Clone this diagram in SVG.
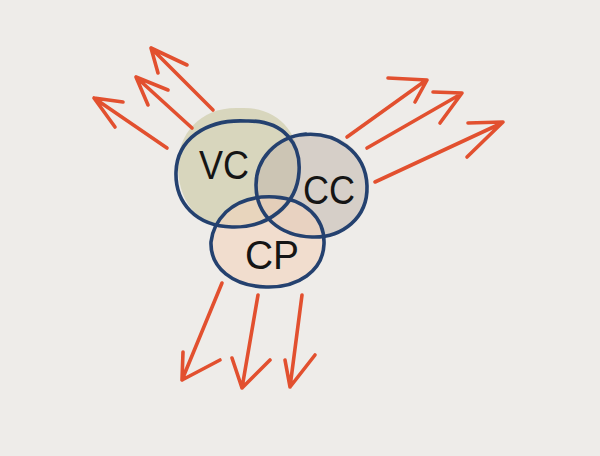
<svg xmlns="http://www.w3.org/2000/svg" width="600" height="456" viewBox="0 0 600 456">
<style>
.arr{fill:none;stroke:#e2502f;stroke-width:3.6;stroke-linecap:round;stroke-linejoin:round}
.ring{fill:none;stroke:#24416f;stroke-width:3.6;stroke-linecap:round}
.lbl{font-family:"Liberation Sans","DejaVu Sans",sans-serif;font-size:40px;fill:#151515;text-anchor:middle}
</style>
<rect width="600" height="456" fill="#eeece9"/>
<g id="washes">
<path d="M178,170 C176,135 200,106 240,108 C275,106 300,130 300,168 C300,205 275,228 238,228 C200,228 180,205 178,170 Z" fill="#c9c8a0" opacity="0.6"/>
<path d="M256,185 C256,150 280,133 312,133 C345,133 367,155 367,185 C367,218 342,238 311,238 C280,238 256,218 256,185 Z" fill="#c2b8ad" opacity="0.55"/>
<path d="M211,243 C211,212 238,197 268,197 C300,197 324,214 324,242 C324,272 298,288 266,288 C234,288 211,272 211,243 Z" fill="#f4d3bd" opacity="0.6"/>
</g>
<g id="vc">
<path class="ring" d="M246,121 C285,120 301,145 299,172 C297,205 268,228 232,227 C196,226 175,203 176,172 C177,140 205,119 246,121 Z"/>
<text class="lbl" x="224" y="179" textLength="50" lengthAdjust="spacingAndGlyphs">VC</text>
</g>
<g id="cc">
<path class="ring" d="M300,135 C335,130 366,152 367,186 C368,218 342,238 312,237 C280,236 256,216 256,185 C256,160 275,137 306,134"/>
<text class="lbl" x="329" y="204" textLength="52" lengthAdjust="spacingAndGlyphs">CC</text>
</g>
<g id="cp">
<path class="ring" d="M226,212 C240,199 258,196 275,197 C305,199 325,218 324,244 C323,271 298,288 266,287 C233,286 210,268 211,242 C212,232 216,222 226,212"/>
<text class="lbl" x="272" y="269" textLength="54" lengthAdjust="spacingAndGlyphs">CP</text>
</g>
<g id="connectors">
<path class="arr" d="M167,148 L94,98 M123,102 L94,98 L115,127"/>
<path class="arr" d="M192,128 L136,77 M168,90 L136,77 L148,105"/>
<path class="arr" d="M213,110 L151,48 M187,65 L151,48 L158,73"/>
<path class="arr" d="M347,137 L425,81 M388,78 L427,80 L415,102"/>
<path class="arr" d="M367,148 L461,94 M433,92 L462,93 L440,123"/>
<path class="arr" d="M375,182 L502,123 M468,123 L503,122 L467,157"/>
<path class="arr" d="M222,283 L182,380 M183,352 L182,380 L220,360"/>
<path class="arr" d="M258,295 L242,388 M232,358 L242,388 L270,360"/>
<path class="arr" d="M302,295 L290,387 M285,360 L290,387 L315,355"/>
</g>
</svg>
